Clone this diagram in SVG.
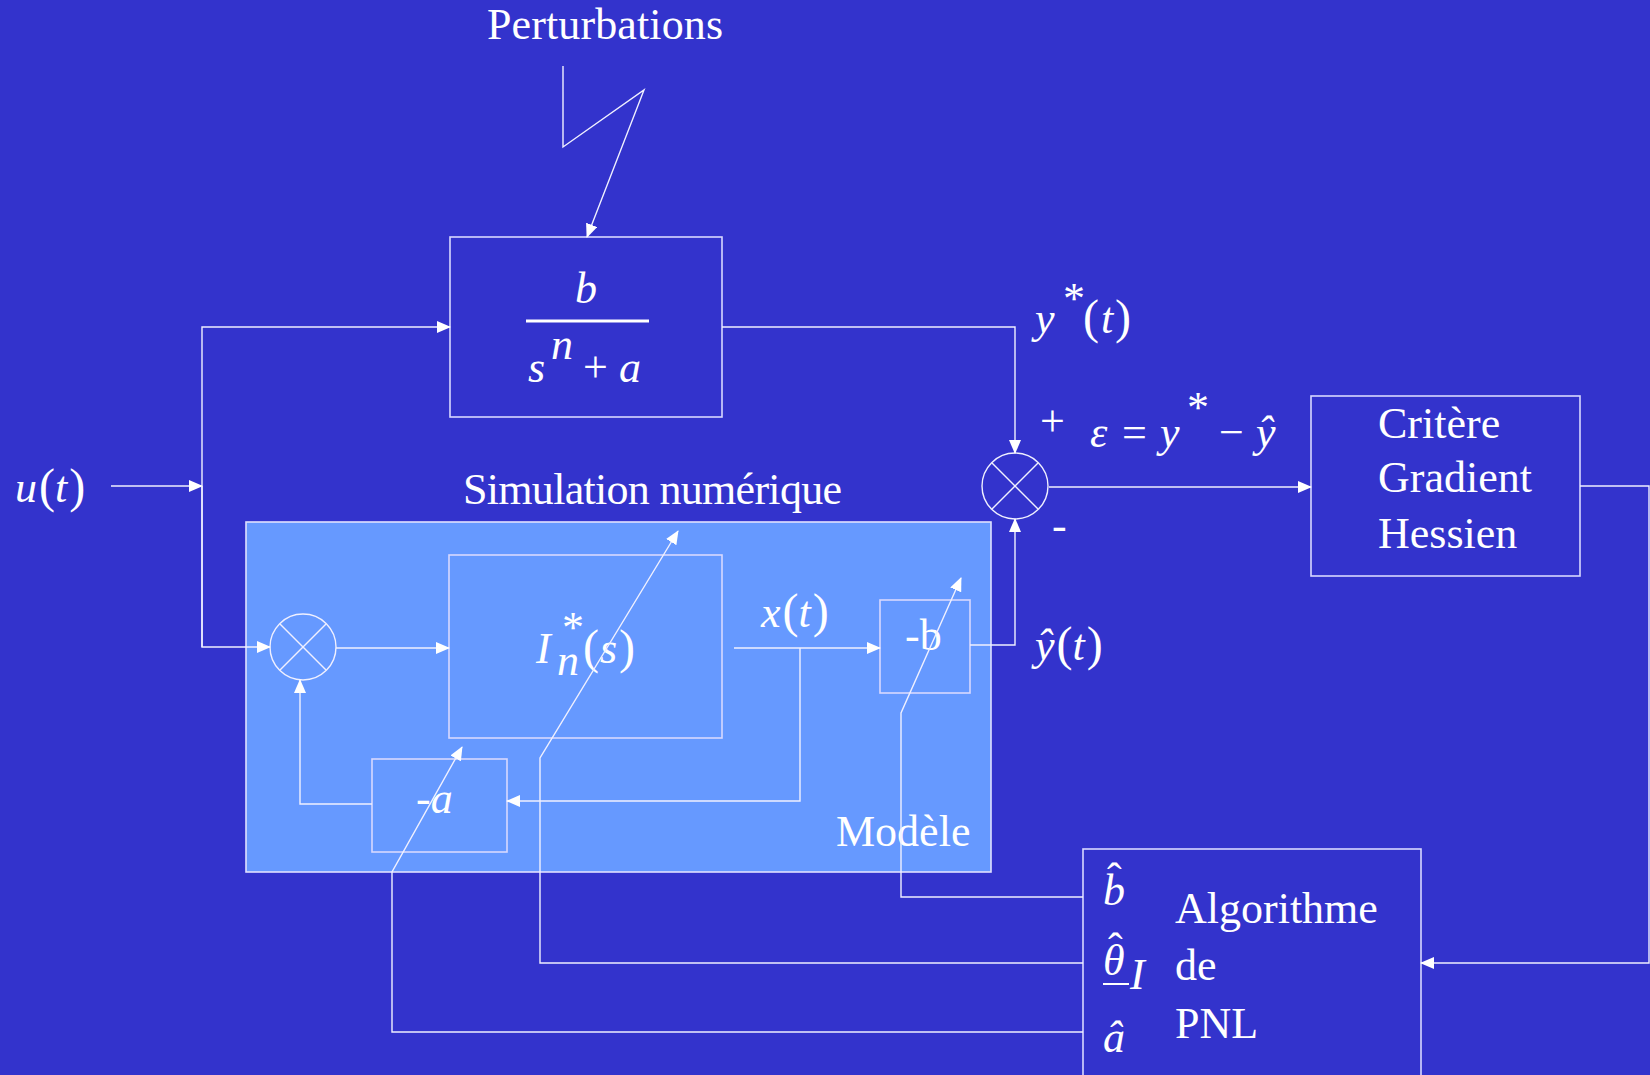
<svg xmlns="http://www.w3.org/2000/svg" width="1650" height="1075" viewBox="0 0 1650 1075">
<defs>
<marker id="arr" markerUnits="userSpaceOnUse" markerWidth="14" markerHeight="12" refX="13" refY="6" orient="auto">
<path d="M0,0 L14,6 L0,12 Z" fill="#ffffff"/>
</marker>
<style>
.bg{fill:#3333cc}
.box{fill:none;stroke:#d8d8ff;stroke-width:1.6}
.model{fill:#6699ff;stroke:#e0e0ff;stroke-width:1.6}
.ln{fill:none;stroke:#f0f0ff;stroke-width:1.4}
.t{font-family:"Liberation Serif","Times New Roman",serif;font-size:44px;fill:#ffffff}
.m{font-family:"Liberation Serif","Times New Roman",serif;font-size:44px;font-style:italic;fill:#ffffff}
.u{font-style:normal}
.p{font-style:normal;font-size:48px}
</style>
</defs>
<rect class="bg" x="0" y="0" width="1650" height="1075"/>

<g id="perturbations">
<text class="t" x="487" y="39" textLength="236">Perturbations</text>
</g>

<g id="model">
<rect class="model" x="246" y="522" width="745" height="350"/>
<text class="t" x="836" y="846">Modèle</text>
</g>
<g id="sim-label">
<text class="t" x="463" y="504" textLength="379">Simulation numérique</text>
</g>

<g id="plant">
<rect class="box" x="450" y="237" width="272" height="180"/>
<line x1="526" y1="321" x2="649" y2="321" stroke="#ffffff" stroke-width="3"/>
<text class="m" x="586" y="303" text-anchor="middle">b</text>
<text class="m" x="528" y="382">s<tspan x="551" y="359">n</tspan><tspan class="u" x="583" y="382">+</tspan><tspan x="619" y="382">a</tspan></text>
</g>

<g id="sum1">
<circle cx="303" cy="647" r="33" fill="none" stroke="#f0f0ff" stroke-width="1.4"/>
<line class="ln" x1="280" y1="624" x2="326" y2="670"/>
<line class="ln" x1="326" y1="624" x2="280" y2="670"/>
</g>

<g id="integrator">
<rect class="box" x="449" y="555" width="273" height="183"/>
<text class="m" x="536" y="663">I<tspan class="u" x="562" y="642">*</tspan><tspan x="557" y="675">n</tspan><tspan class="p" x="583" y="663">(</tspan><tspan x="600" y="663">s</tspan><tspan class="p" x="619" y="663">)</tspan></text>
</g>

<g id="gain-a">
<rect class="box" x="372" y="759" width="135" height="93"/>
<text class="t" x="416" y="813">-<tspan class="m">a</tspan></text>
</g>

<g id="gain-b">
<rect class="box" x="880" y="600" width="90" height="93"/>
<text class="t" x="905" y="650">-b</text>
</g>

<g id="sum2">
<circle cx="1015" cy="486" r="33" fill="none" stroke="#f0f0ff" stroke-width="1.4"/>
<line class="ln" x1="992" y1="463" x2="1038" y2="509"/>
<line class="ln" x1="1038" y1="463" x2="992" y2="509"/>
</g>

<g id="critere">
<rect class="box" x="1311" y="396" width="269" height="180"/>
<text class="t" x="1378" y="438">Critère</text>
<text class="t" x="1378" y="492">Gradient</text>
<text class="t" x="1378" y="548">Hessien</text>
</g>

<g id="algorithme">
<rect class="box" x="1083" y="849" width="338" height="240"/>
<text class="m" x="1103" y="905">b<tspan class="u" x="1107" y="893">ˆ</tspan></text>
<text class="m" x="1103" y="975">θ<tspan class="u" x="1108" y="963">ˆ</tspan><tspan x="1130" y="989">I</tspan></text>
<line x1="1103" y1="984" x2="1129" y2="984" stroke="#ffffff" stroke-width="2"/>
<text class="m" x="1103" y="1052">â</text>
<text class="t" x="1175" y="923">Algorithme</text>
<text class="t" x="1175" y="980">de</text>
<text class="t" x="1175" y="1038">PNL</text>
</g>

<g id="labels">
<text class="m" x="15" y="502">u<tspan class="p" dx="2">(</tspan>t<tspan class="p" dx="2">)</tspan></text>
<text class="m" x="1035" y="333">y<tspan class="u" x="1063" y="313">*</tspan><tspan class="p" x="1083" y="333">(</tspan><tspan x="1101" y="333">t</tspan><tspan class="p" x="1115" y="333">)</tspan></text>
<text class="t" x="1040" y="436">+</text>
<text class="m" x="1090" y="447">ε<tspan class="u" x="1122">=</tspan><tspan x="1160">y</tspan><tspan class="u" x="1187" y="422">*</tspan><tspan class="u" x="1219" y="447">−</tspan><tspan x="1256">ŷ</tspan></text>
<text class="t" x="1052" y="540">-</text>
<text class="m" x="761" y="627">x<tspan class="p" dx="2">(</tspan>t<tspan class="p" dx="2">)</tspan></text>
<text class="m" x="1035" y="660">ŷ<tspan class="p" dx="2">(</tspan>t<tspan class="p" dx="2">)</tspan></text>
</g>

<g id="connectors">
<polyline class="ln" points="563,66 563,147 644,90 587,237" marker-end="url(#arr)"/>
<line class="ln" x1="111" y1="486" x2="202" y2="486" marker-end="url(#arr)"/>
<polyline class="ln" points="202,647 202,327 450,327" marker-end="url(#arr)"/>
<polyline class="ln" points="202,486 202,647 270,647" marker-end="url(#arr)"/>
<line class="ln" x1="336" y1="648" x2="449" y2="648" marker-end="url(#arr)"/>
<line class="ln" x1="734" y1="648" x2="880" y2="648" marker-end="url(#arr)"/>
<polyline class="ln" points="800,648 800,801 507,801" marker-end="url(#arr)"/>
<polyline class="ln" points="372,804 300,804 300,680" marker-end="url(#arr)"/>
<polyline class="ln" points="970,645 1015,645 1015,519" marker-end="url(#arr)"/>
<polyline class="ln" points="722,327 1015,327 1015,453" marker-end="url(#arr)"/>
<line class="ln" x1="1049" y1="487" x2="1311" y2="487" marker-end="url(#arr)"/>
<polyline class="ln" points="1580,486 1649,486 1649,963 1421,963" marker-end="url(#arr)"/>
<polyline class="ln" points="1083,897 901,897 901,713 961,578" marker-end="url(#arr)"/>
<polyline class="ln" points="1083,963 540,963 540,758 678,531" marker-end="url(#arr)"/>
<polyline class="ln" points="1083,1032 392,1032 392,872 462,747" marker-end="url(#arr)"/>
</g>
</svg>
